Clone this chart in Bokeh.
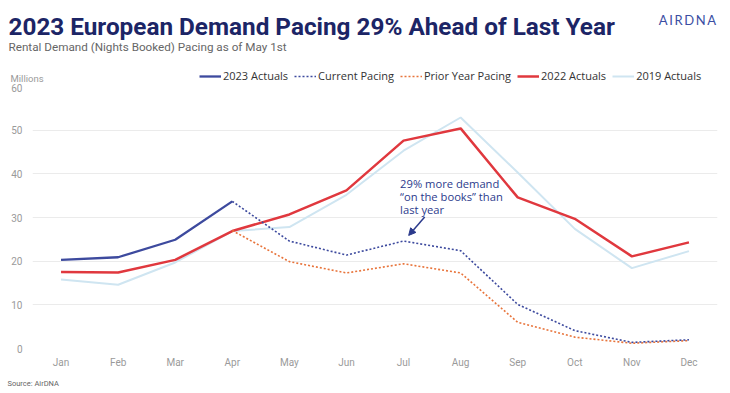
from bokeh.plotting import figure
from bokeh.layouts import column
from bokeh.models import (Label, Legend, LegendItem, FixedTicker, Arrow, NormalHead,
                          Range1d)
from bokeh.embed import file_html
from bokeh.resources import INLINE

months = ["Jan", "Feb", "Mar", "Apr", "May", "Jun", "Jul", "Aug", "Sep", "Oct", "Nov", "Dec"]
actuals_2023 = [20.3, 20.9, 24.9, 33.7]
current_pacing = [33.7, 24.6, 21.4, 24.6, 22.4, 10.1, 4.1, 1.4, 2.0]
prior_year_pacing = [27.0, 19.9, 17.3, 19.4, 17.3, 6.0, 2.6, 1.2, 1.8]
actuals_2022 = [17.5, 17.4, 20.3, 26.9, 30.7, 36.2, 47.6, 50.4, 34.6, 29.7, 21.1, 24.3]
actuals_2019 = [15.8, 14.6, 19.7, 26.9, 27.8, 35.2, 45.3, 52.9, 40.3, 27.4, 18.4, 22.3]
y_ticks = [0, 10, 20, 30, 40, 50, 60]
series_names = ["2023 Actuals", "Current Pacing", "Prior Year Pacing", "2022 Actuals", "2019 Actuals"]

NAVY = "#1c2566"
BLUE = "#3d4a9e"
ORANGE = "#e8743b"
RED = "#e0383e"
LIGHT = "#cfe5f1"
GRAY = "#9a9a9a"
ANN = "#2b3a8c"

W = 722
HEAD_H, TOP_B, FRAME_H, BOT_B, FOOT_H = 83, 3, 262, 24, 17
FL, FR = 32, 717
X0, X1, Y0, Y1 = -0.5, 11.5, 0, 60

styles = [
    dict(line_color=BLUE, line_width=2.3),
    dict(line_color=BLUE, line_width=1.6, line_dash="2 2"),
    dict(line_color=ORANGE, line_width=1.6, line_dash="2 2"),
    dict(line_color=RED, line_width=2.5),
    dict(line_color=LIGHT, line_width=2),
]


def blank(h):
    f = figure(width=W, height=h, output_backend="svg", toolbar_location=None,
               x_range=Range1d(0, W), y_range=Range1d(h, 0),
               x_axis_location=None, y_axis_location=None, frame_align=False,
               min_border=0, min_border_left=0, min_border_right=0,
               min_border_top=0, min_border_bottom=0)
    f.grid.visible = False
    f.outline_line_color = None
    f.background_fill_color = "white"
    f.border_fill_color = "white"
    return f


def lab(fig, text, x, y, size, color, font="Open Sans", style="normal", align="left"):
    fig.add_layout(Label(x=x, y=y, text=text, text_font=font, text_font_size=size,
                         text_color=color, text_font_style=style,
                         text_baseline="alphabetic", text_align=align))


# ---- header: title, subtitle, logo, unit label, legend ----
head = blank(HEAD_H)
lab(head, "2023 European Demand Pacing 29% Ahead of Last Year", 8, 26, "24.3px", NAVY,
    font="Roboto", style="bold")
lab(head, "Rental Demand (Nights Booked) Pacing as of May 1st", 8, 46, "11.7px", "#666666",
    font="Roboto")
lab(head, "A\u2009I\u2009R\u2009D\u2009N\u2009A", 687, 19, "13px", "#3b4ea3", font="Lato",
    align="center")
lab(head, "Millions", 10, 78, "9.5px", GRAY, font="Roboto")

nan = float("nan")
swatches = [head.line(x=[nan], y=[nan], **s) for s in styles]
legend = Legend(items=[LegendItem(label=n, renderers=[r]) for n, r in zip(series_names, swatches)],
                orientation="horizontal", location=(199, 0), border_line_color=None,
                background_fill_alpha=0, label_text_font="Open Sans",
                label_text_font_size="11px", label_text_color="#333333",
                label_text_line_height=1.0,
                label_height=11, glyph_width=22, glyph_height=10, spacing=6,
                label_standoff=2, padding=0, margin=0)
head.add_layout(legend, "center")

# ---- main chart ----
idx = list(range(len(months)))
p = figure(width=W, height=TOP_B + FRAME_H + BOT_B, output_backend="svg",
           toolbar_location=None, frame_align=False,
           x_range=Range1d(X0, X1), y_range=Range1d(Y0, Y1),
           min_border_left=FL, min_border_right=W - FR, min_border_top=TOP_B,
           min_border_bottom=BOT_B)
p.outline_line_color = None
p.background_fill_color = "white"
p.border_fill_color = "white"

p.line(idx, actuals_2019, **styles[4])
p.line(idx, actuals_2022, **styles[3])
p.line(idx[3:], prior_year_pacing, **styles[2])
p.line(idx[3:], current_pacing, **styles[1])
p.line(idx[:4], actuals_2023, **styles[0])

p.xaxis.ticker = FixedTicker(ticks=idx)
p.xaxis.major_label_overrides = {i: m for i, m in enumerate(months)}
p.yaxis.ticker = FixedTicker(ticks=y_ticks)
for ax in (p.xaxis, p.yaxis):
    ax.axis_line_color = None
    ax.major_tick_line_color = None
    ax.minor_tick_line_color = None
    ax.major_tick_out = 0
    ax.major_tick_in = 0
    ax.minor_tick_out = 0
    ax.major_label_text_color = GRAY
    ax.major_label_text_font = "Roboto"
    ax.major_label_text_font_size = "10px"
p.xaxis.major_label_standoff = 8
p.yaxis.major_label_standoff = 10
p.xgrid.grid_line_color = None
p.ygrid.grid_line_color = "#ebebeb"
p.ygrid.grid_line_width = 1

# annotation (positions in data units)
ann = ["29% more demand", "\u201con the books\u201d than", "last year"]
for i, t in enumerate(ann):
    p.add_layout(Label(x=5.94, y=37.9 - i * 3.05, text=t, text_font="Open Sans",
                       text_font_size="11.2px", text_color=ANN, text_baseline="alphabetic"))
p.add_layout(Arrow(end=NormalHead(size=7, fill_color=ANN, line_color=ANN),
                   x_start=6.37, y_start=30.1, x_end=6.09, y_end=25.9,
                   line_color=ANN, line_width=1.5))

# ---- footer ----
foot = blank(FOOT_H)
lab(foot, "Source: AirDNA", 7, 11, "7.5px", "#666666", font="Roboto")

layout = column(head, p, foot, spacing=0)
open("out.html", "w").write(file_html(layout, INLINE))
